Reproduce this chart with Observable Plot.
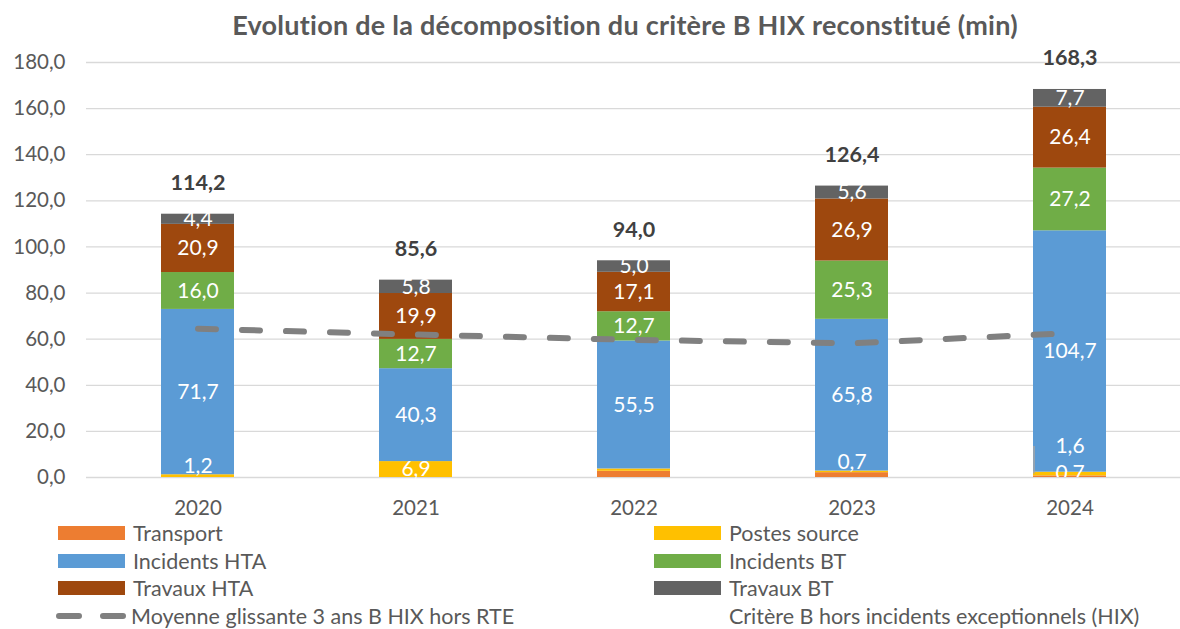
<!DOCTYPE html>
<html><head><meta charset="utf-8">
<script src="https://cdn.jsdelivr.net/npm/d3@7"></script>
<script src="https://cdn.jsdelivr.net/npm/@observablehq/plot@0.6"></script>
<style>
body{margin:0;background:#fff;font-family:Lato,"Open Sans",sans-serif;color:#595959;}
#wrap{width:1180px;height:629px;position:relative;overflow:hidden;background:#fff;}
#title{height:50px;line-height:50px;text-align:center;padding-left:70px;box-sizing:border-box;font-weight:bold;font-size:27px;letter-spacing:0.25px;color:#595959;white-space:nowrap;}
#legend{position:relative;height:107px;font-size:21.5px;color:#595959;}
.li{position:absolute;display:flex;align-items:center;height:26px;line-height:26px;white-space:nowrap;}
.sw{width:67px;height:14px;margin-right:8px;}
</style></head><body>
<div id="wrap">
<div id="title">Evolution de la décomposition du critère B HIX reconstitué (min)</div>
<div id="chart"></div>
<div id="legend"></div>
</div>
<script>
const years = ["2020","2021","2022","2023","2024"];
const seriesNames = ["Transport","Postes source","Incidents HTA","Incidents BT","Travaux HTA","Travaux BT"];
const seriesColors = ["#ED7D31","#FFC000","#5B9BD5","#70AD47","#9E480E","#636363"];
const transport    = [0, 0, 2.7, 2.1, 0.7];
const postesSource = [1.2, 6.9, 1.0, 0.7, 1.6];
const incidentsHTA = [71.7, 40.3, 55.5, 65.8, 104.7];
const incidentsBT  = [16.0, 12.7, 12.7, 25.3, 27.2];
const travauxHTA   = [20.9, 19.9, 17.1, 26.9, 26.4];
const travauxBT    = [4.4, 5.8, 5.0, 5.6, 7.7];
const totals       = [114.2, 85.6, 94.0, 126.4, 168.3];
const movingAvg    = [64.5, 62.0, 59.7, 58.2, 62.6];
const yTicks = [0,20,40,60,80,100,120,140,160,180];
const lineName = "Moyenne glissante 3 ans B HIX hors RTE";
const totalName = "Critère B hors incidents exceptionnels (HIX)";

const seriesValues = [transport, postesSource, incidentsHTA, incidentsBT, travauxHTA, travauxBT];
const fmt = v => v.toFixed(1).replace(".", ",");

// labels that Excel hid / moved
const hiddenLabels = new Set(["2020|Transport","2021|Transport","2022|Transport","2022|Postes source","2023|Transport"]);
const labelAt = {"2020|Postes source": 4.8, "2023|Postes source": 6.5, "2024|Postes source": 13.4, "2024|Transport": 1.9};

const rows = [];
years.forEach((yr, i) => {
  let acc = 0;
  seriesNames.forEach((s, k) => {
    const v = seriesValues[k][i];
    const key = yr + "|" + s;
    rows.push({year: yr, series: s, value: v, y1: acc, y2: acc + v,
      ly: labelAt[key] !== undefined ? labelAt[key] : acc + v / 2,
      show: v > 0 && !hiddenLabels.has(key), low: labelAt[key] !== undefined && labelAt[key] < 3});
    acc += v;
  });
});
const totalRows = years.map((yr, i) => ({year: yr, total: totals[i]}));
const avgRows = years.map((yr, i) => ({year: yr, avg: movingAvg[i]}));
const leaderRow = rows.find(r => r.year === "2024" && r.series === "Postes source");

const chart = Plot.plot({
  width: 1180, height: 472,
  marginTop: 12, marginBottom: 45, marginLeft: 86, marginRight: 0,
  style: {fontFamily: "Lato, 'Open Sans', sans-serif", fontSize: "20.5px", color: "#595959", background: "white", overflow: "visible"},
  x: {domain: years, paddingInner: 0.667, paddingOuter: 0.333, tickSize: 0, tickPadding: 23, label: null},
  y: {domain: [0, 180], ticks: yTicks, tickFormat: fmt, tickSize: 0, tickPadding: 21, label: null},
  color: {domain: seriesNames, range: seriesColors},
  marks: [
    Plot.ruleY(yTicks, {stroke: "#d9d9d9", strokeWidth: 1.3}),
    Plot.barY(rows, {x: "year", y1: "y1", y2: "y2", fill: "series"}),
    Plot.lineY(avgRows, {x: "year", y: "avg", stroke: "#808080", strokeWidth: 6, strokeDasharray: "18 26", strokeLinecap: "round"}),
    Plot.ruleX([leaderRow], {x: "year", y1: d => d.y2 - 0.8, y2: "ly", dx: -36, stroke: "#a6a6a6", strokeWidth: 1.5}),
    Plot.ruleY([leaderRow], {x: "year", y: "ly", insetLeft: 0, insetRight: 62, stroke: "#a6a6a6", strokeWidth: 1.5}),
    Plot.text(rows.filter(r => r.show && !r.low), {x: "year", y: "ly", text: d => fmt(d.value), fill: "white", fontSize: 21}),
    Plot.text(rows.filter(r => r.show && r.low), {x: "year", y: "ly", text: d => fmt(d.value), fill: "white", fontSize: 21, clip: true}),
    Plot.text(totalRows, {x: "year", y: "total", text: d => fmt(d.total), dy: -31, fill: "#404040", fontWeight: "bold", fontSize: 21.5})
  ]
});
document.getElementById("chart").appendChild(chart);

// legend
const leg = document.getElementById("legend");
const items = [
  {name: seriesNames[0], color: seriesColors[0], col: 0, row: 0},
  {name: seriesNames[1], color: seriesColors[1], col: 1, row: 0},
  {name: seriesNames[2], color: seriesColors[2], col: 0, row: 1},
  {name: seriesNames[3], color: seriesColors[3], col: 1, row: 1},
  {name: seriesNames[4], color: seriesColors[4], col: 0, row: 2},
  {name: seriesNames[5], color: seriesColors[5], col: 1, row: 2},
  {name: lineName, dashed: true, col: 0, row: 3},
  {name: totalName, none: true, col: 1, row: 3}
];
items.forEach(it => {
  const d = document.createElement("div");
  d.className = "li";
  d.style.left = (it.col ? 654 : 58) + "px";
  d.style.top = (it.row * 27.6 - 2) + "px";
  if (it.dashed) {
    d.innerHTML = `<svg width="75" height="14" style="margin-left:-2px"><line x1="3" y1="7" x2="72" y2="7" stroke="#808080" stroke-width="6" stroke-linecap="round" stroke-dasharray="20 24"/></svg>`;
  } else if (it.none) {
    d.innerHTML = `<div class="sw" style="background:transparent"></div>`;
  } else {
    d.innerHTML = `<div class="sw" style="background:${it.color}"></div>`;
  }
  const t = document.createElement("span");
  t.textContent = it.name;
  d.appendChild(t);
  leg.appendChild(d);
});
</script>
</body></html>
